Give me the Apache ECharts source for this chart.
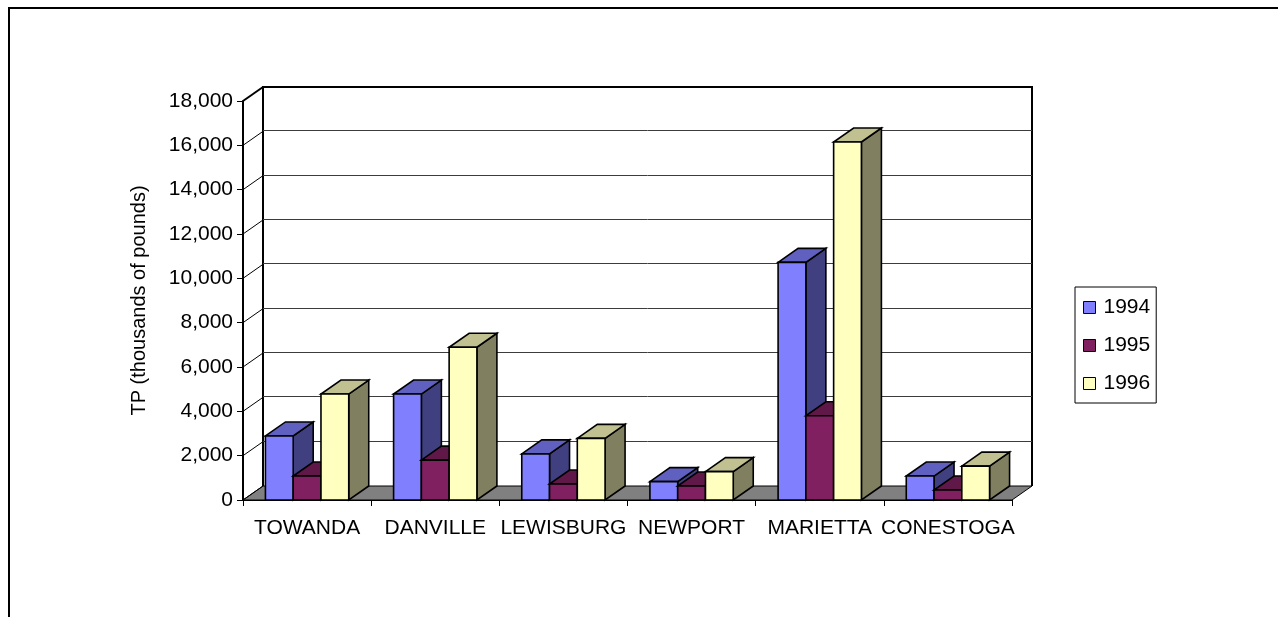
<!DOCTYPE html>
<html>
<head>
<meta charset="utf-8">
<title>TP loads</title>
<script src="https://cdn.jsdelivr.net/npm/echarts@6/dist/echarts.min.js"></script>
<style>
  html, body { margin: 0; padding: 0; background: #fff; }
  #chart { width: 1278px; height: 617px; }
</style>
</head>
<body>
<div id="chart"></div>
<script>
// Monitoring stations along the river
const categories = ['TOWANDA', 'DANVILLE', 'LEWISBURG', 'NEWPORT', 'MARIETTA', 'CONESTOGA'];
const years = ['1994', '1995', '1996'];

// Total phosphorus load, thousands of pounds
const tp1994 = [2890, 4780, 2080, 830, 10720, 1080];
const tp1995 = [1080, 1800, 720, 630, 3800, 450];
const tp1996 = [4780, 6890, 2780, 1280, 16150, 1530];

// Value-axis ticks
const yTicks = [0, 2000, 4000, 6000, 8000, 10000, 12000, 14000, 16000, 18000];

// Oblique depth of the pseudo-3D box (pixels)
const DX = 20, DY = -14;
const FONT = '"Liberation Sans", Arial, Helvetica, sans-serif';

// front / top / side shades for each year
const shades = [
  { front: '#8080FF', top: '#6060C0', side: '#404080' },
  { front: '#802060', top: '#601848', side: '#401030' },
  { front: '#FFFFC0', top: '#C0C090', side: '#808060' }
];

const chart = echarts.init(document.getElementById('chart'), null, { renderer: 'canvas' });

function crisp(v) { return Math.round(v) + 0.5; }

// Back wall gridlines and side-wall diagonals, one per tick value
function renderTicks(params, api) {
  const cs = params.coordSys;
  const left = cs.x, right = cs.x + cs.width;
  const v = api.value(1);
  const y = api.coord([0, v])[1];
  const isTop = v === yTicks[yTicks.length - 1];
  const children = [{
    type: 'line',
    shape: { x1: left, y1: y, x2: left + DX, y2: y + DY },
    style: { stroke: '#000', lineWidth: isTop ? 2 : 1 }
  }];
  if (v > 0 && !isTop) {
    children.push({
      type: 'line',
      shape: { x1: left + DX, y1: crisp(y + DY) - 1, x2: right + DX, y2: crisp(y + DY) - 1 },
      style: { stroke: '#3c3c3c', lineWidth: 1 }
    });
  }
  return { type: 'group', children };
}

// Floor and wall outline
function renderBox(params, api) {
  const cs = params.coordSys;
  const left = cs.x, right = cs.x + cs.width;
  const yBase = api.coord([0, yTicks[0]])[1];
  const yTop = api.coord([0, yTicks[yTicks.length - 1]])[1];
  return {
    type: 'group',
    children: [
      {
        type: 'polygon',
        shape: { points: [[left, yBase], [right, yBase], [right + DX, yBase + DY], [left + DX, yBase + DY]] },
        style: { fill: '#808080', stroke: '#000', lineWidth: 1 }
      },
      {
        type: 'polyline',
        shape: { points: [[left + DX, yBase + DY], [left + DX, yTop + DY], [right + DX, yTop + DY], [right + DX, yBase + DY]] },
        style: { fill: null, stroke: '#000', lineWidth: 2 }
      }
    ]
  };
}

// One solid column: front face, top face, right side face
function renderColumn(params, api) {
  const idx = params.seriesIndex - 2;
  const shade = shades[idx];
  const cat = api.value(0);
  const val = api.value(1);
  const band = api.size([1, 0])[0];
  const barW = band * 0.65 / 3;
  const cx = api.coord([cat, 0])[0];
  const yBase = api.coord([cat, 0])[1];
  const yTop = api.coord([cat, val])[1];
  const x0 = cx - 1.5 * barW + idx * barW;
  const x1 = x0 + barW;
  const line = { stroke: '#000', lineWidth: 1.6, lineJoin: 'miter' };
  return {
    type: 'group',
    children: [
      {
        type: 'polygon',
        shape: { points: [[x1, yTop], [x1 + DX, yTop + DY], [x1 + DX, yBase + DY], [x1, yBase]] },
        style: Object.assign({ fill: shade.side }, line)
      },
      {
        type: 'polygon',
        shape: { points: [[x0, yTop], [x1, yTop], [x1 + DX, yTop + DY], [x0 + DX, yTop + DY]] },
        style: Object.assign({ fill: shade.top }, line)
      },
      {
        type: 'rect',
        shape: { x: x0, y: yTop, width: barW, height: yBase - yTop },
        style: Object.assign({ fill: shade.front }, line)
      }
    ]
  };
}

const yearValues = [tp1994, tp1995, tp1996];

const option = {
  animation: false,
  backgroundColor: '#fff',
  textStyle: { fontFamily: FONT },
  graphic: [{
    type: 'rect',
    shape: { x: 9, y: 8, width: 1400, height: 700 },
    style: { fill: null, stroke: '#000', lineWidth: 2 },
    silent: true
  }],
  legend: {
    orient: 'vertical',
    left: 1075,
    top: 287,
    data: years,
    icon: 'rect',
    itemWidth: 12,
    itemHeight: 12,
    itemGap: 17,
    padding: [10, 6, 9, 8],
    borderColor: '#000',
    borderWidth: 1,
    backgroundColor: '#fff',
    itemStyle: { borderColor: '#000', borderWidth: 1 },
    textStyle: { fontSize: 21, color: '#000', fontFamily: FONT, lineHeight: 21, padding: [0, 0, 0, 3] }
  },
  grid: { left: 243, top: 101, width: 769, height: 399, containLabel: false },
  xAxis: {
    type: 'category',
    data: categories,
    boundaryGap: true,
    axisLine: { show: true, lineStyle: { color: '#000', width: 2 } },
    axisTick: { show: true, length: 6, lineStyle: { color: '#000', width: 1 } },
    axisLabel: { interval: 0, fontSize: 21, color: '#000', margin: 18, fontFamily: FONT },
    splitLine: { show: false }
  },
  yAxis: {
    type: 'value',
    min: 0,
    max: 18000,
    interval: 2000,
    name: 'TP (thousands of pounds)',
    nameLocation: 'middle',
    nameGap: 94,
    nameTextStyle: { fontSize: 20, color: '#000', fontFamily: FONT },
    axisLine: { show: true, lineStyle: { color: '#000', width: 2 } },
    axisTick: { show: true, length: 6, lineStyle: { color: '#000', width: 1 } },
    axisLabel: {
      fontSize: 21, color: '#000', margin: 10, fontFamily: FONT,
      formatter: v => v.toLocaleString('en-US')
    },
    splitLine: { show: false }
  },
  series: [
    {
      name: 'box',
      type: 'custom',
      z: 1,
      clip: false,
      silent: true,
      renderItem: renderBox,
      encode: { x: 0, y: 1 },
      data: [[0, 0]]
    },
    {
      name: 'ticks',
      type: 'custom',
      z: 1,
      clip: false,
      silent: true,
      renderItem: renderTicks,
      encode: { x: 0, y: 1 },
      data: yTicks.map(v => [0, v])
    }
  ].concat(years.map((yr, i) => ({
    name: yr,
    type: 'custom',
    z: 3,
    clip: false,
    itemStyle: { color: shades[i].front },
    renderItem: renderColumn,
    encode: { x: 0, y: 1 },
    data: yearValues[i].map((v, c) => [c, v])
  })))
};

chart.setOption(option);
</script>
</body>
</html>
